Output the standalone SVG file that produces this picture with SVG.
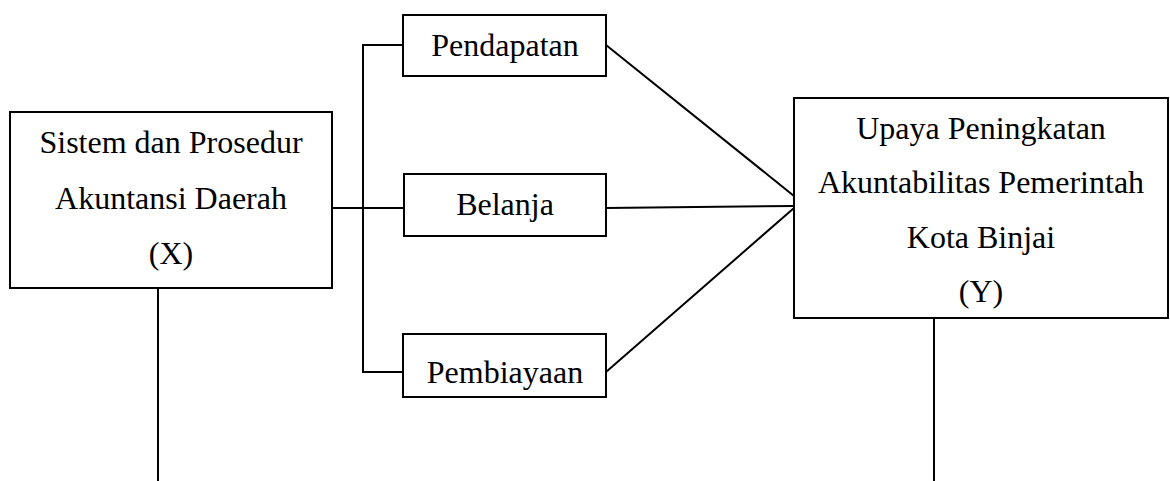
<svg xmlns="http://www.w3.org/2000/svg" width="1170" height="481" viewBox="0 0 1170 481">
<style>
.box{fill:#fff;stroke:#000;stroke-width:2}
.ln{fill:none;stroke:#000;stroke-width:2}
text{font-family:"Liberation Serif","Times New Roman",serif;font-size:32px;fill:#000;text-anchor:middle}
</style>
<rect width="1170" height="481" fill="#fff"/>
<g id="connectors">
<line class="ln" x1="332" y1="208" x2="404" y2="208"/>
<polyline class="ln" points="403,45 363,45 363,372 403,372"/>
<line class="ln" x1="606" y1="45" x2="794" y2="196"/>
<line class="ln" x1="606" y1="208" x2="794" y2="206"/>
<line class="ln" x1="606" y1="372" x2="794" y2="208"/>
<line class="ln" x1="158" y1="288" x2="158" y2="481"/>
<line class="ln" x1="934" y1="318" x2="934" y2="481"/>
</g>
<g id="nodeX">
<rect class="box" x="10" y="112" width="322" height="176"/>
<text x="171" y="153">Sistem dan Prosedur</text>
<text x="171" y="209">Akuntansi Daerah</text>
<text x="171" y="264">(X)</text>
</g>
<g id="pendapatan">
<rect class="box" x="403" y="15" width="203" height="61"/>
<text x="505" y="56">Pendapatan</text>
</g>
<g id="belanja">
<rect class="box" x="404" y="174" width="202" height="62"/>
<text x="505" y="215">Belanja</text>
</g>
<g id="pembiayaan">
<rect class="box" x="403" y="334" width="203" height="63"/>
<text x="505" y="383">Pembiayaan</text>
</g>
<g id="nodeY">
<rect class="box" x="794" y="98" width="374" height="220"/>
<text x="981" y="139">Upaya Peningkatan</text>
<text x="981" y="193">Akuntabilitas Pemerintah</text>
<text x="981" y="248">Kota Binjai</text>
<text x="981" y="302">(Y)</text>
</g>
</svg>
